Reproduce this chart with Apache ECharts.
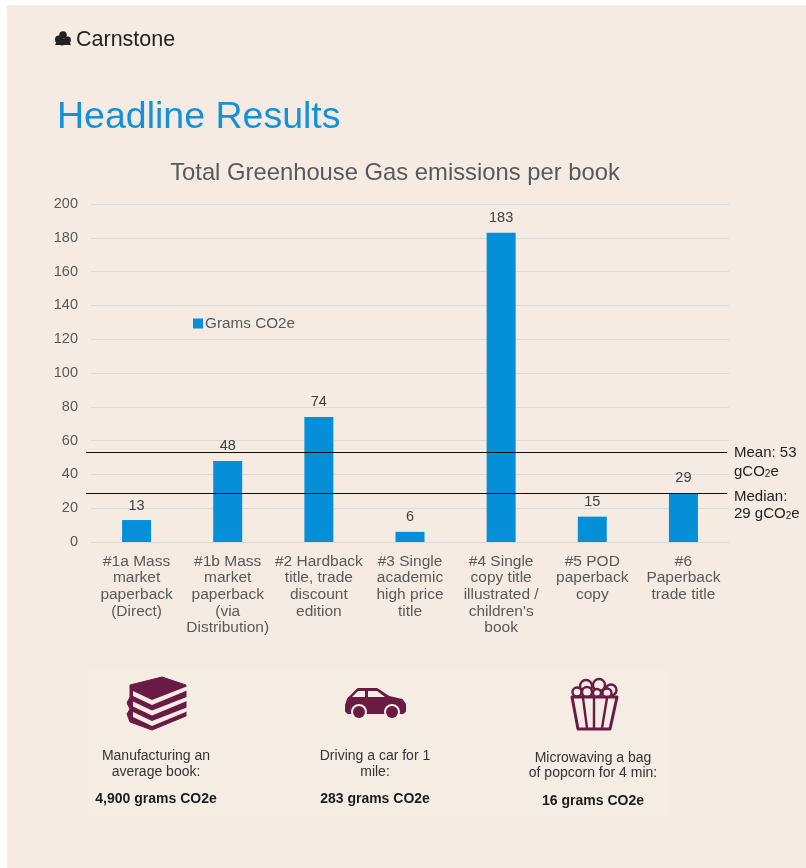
<!DOCTYPE html>
<html>
<head>
<meta charset="utf-8">
<style>html,body{margin:0;padding:0;background:#fff}#chart{width:806px;height:868px}</style>
<script src="https://cdn.jsdelivr.net/npm/echarts@6/dist/echarts.min.js"></script>
</head>
<body>
<div id="chart"></div>
<script>
// Emissions per book, in grams of CO2e
const categories = [
  '#1a Mass\nmarket\npaperback\n(Direct)',
  '#1b Mass\nmarket\npaperback\n(via\nDistribution)',
  '#2 Hardback\ntitle, trade\ndiscount\nedition',
  '#3 Single\nacademic\nhigh price\ntitle',
  '#4 Single\ncopy title\nillustrated /\nchildren\'s\nbook',
  '#5 POD\npaperback\ncopy',
  '#6\nPaperback\ntrade title'
];
const gramsCO2e = [13, 48, 74, 6, 183, 15, 29];
const meanValue = 53;
const medianValue = 29;
const seriesName = 'Grams CO2e';

// Everyday comparisons under the chart
const comparisonLines = [
  ['Manufacturing an', 'average book:'],
  ['Driving a car for 1', 'mile:'],
  ['Microwaving a bag', 'of popcorn for 4 min:']
];
const comparisonTotals = ['4,900 grams CO2e', '283 grams CO2e', '16 grams CO2e'];

const FONT = '"Liberation Sans", Arial, sans-serif';
const PAGE = '#f5ebe3';
const PANEL = '#f5ece4';
const ICON = '#6a1b43';
const BLUE = '#058fd8';
const GREY = '#595959';

const chart = echarts.init(document.getElementById('chart'), null, {renderer: 'canvas'});

function text(x, y, str, size, fill, extra) {
  return {
    type: 'text', z: 10,
    style: Object.assign({
      x, y, text: str, fill, font: size + 'px ' + FONT,
      textAlign: 'center', textVerticalAlign: 'middle'
    }, extra || {})
  };
}
function poly(points, style) {
  return {type: 'polygon', z: 9, shape: {points}, style};
}
function line(points, stroke, lineWidth) {
  return {type: 'polyline', z: 9, shape: {points},
    style: {stroke, lineWidth, fill: 'none', lineJoin: 'round', lineCap: 'round'}};
}
function dot(cx, cy, r, style) {
  return {type: 'circle', z: 9, shape: {cx, cy, r}, style};
}

// Three stacked books: a dark silhouette with the page edges cut out of it
function bookIcon() {
  const out = [
    poly([[130, 685], [162, 677], [186, 685], [186, 716], [152, 730], [130, 722], [127, 714], [130, 709], [127, 703], [130, 697]],
      {fill: ICON, stroke: ICON, lineWidth: 1, lineJoin: 'round'})
  ];
  [0, 10.5, 21].forEach((d) => {
    out.push(poly([[133, 691 + d], [152, 700 + d], [188, 686 + d], [188, 690 + d], [152, 705 + d], [133, 696 + d]],
      {fill: PANEL}));
  });
  return out;
}

function carIcon() {
  return [
    poly([[346, 705], [348, 699], [352, 695], [358, 689], [377, 689], [389, 697], [402, 700], [405, 704], [405, 711], [403, 713], [348, 713], [346, 711]],
      {fill: ICON, stroke: ICON, lineWidth: 2, lineJoin: 'round'}),
    poly([[352, 697], [358, 691], [365, 691], [365, 697]], {fill: PANEL}),
    poly([[368, 691], [377, 691], [385, 697], [368, 697]], {fill: PANEL}),
    dot(359, 712, 8, {fill: PANEL}),
    dot(392, 712, 8, {fill: PANEL}),
    dot(359, 712, 6, {fill: ICON}),
    dot(392, 712, 6, {fill: ICON})
  ];
}

function popcornIcon() {
  const lump = {fill: PANEL, stroke: ICON, lineWidth: 2.4};
  const lumps = [[586, 686, 6], [599, 685, 6], [611, 690, 5.5], [577, 692, 4.5], [587, 692, 5], [597, 693, 4], [607, 693, 4.5]];
  return lumps.map(([x, y, r]) => dot(x, y, r, lump)).concat([
    poly([[572, 697], [617, 697], [610, 729], [578, 729]],
      {fill: PANEL, stroke: ICON, lineWidth: 3, lineJoin: 'round'}),
    line([[583, 698], [587, 728]], ICON, 2.4),
    line([[594, 698], [594, 728]], ICON, 2.4),
    line([[607, 698], [602, 728]], ICON, 2.4)
  ]);
}

// Company mark beside the wordmark
function logoMark() {
  const ink = {fill: '#222'};
  return [
    dot(63, 35, 3.8, ink), dot(59, 39.5, 4, ink), dot(67.5, 40, 3.4, ink),
    dot(62, 42, 3.4, ink),
    poly([[55, 45], [71, 45], [68, 39], [58, 39]], ink)
  ];
}

const sub = {fontSize: 10, fontFamily: 'Liberation Sans', fill: '#222', verticalAlign: 'bottom', padding: [8, 0, 0, 0], lineHeight: 12};
function refLabel(y1, y2, first, second) {
  return [
    text(734, y1, first, 15, '#222', {textAlign: 'left'}),
    {type: 'text', z: 10, style: {x: 734, y: y2, text: second, fill: '#222', font: '15px ' + FONT,
      textAlign: 'left', textVerticalAlign: 'middle', rich: {sub}}}
  ];
}

const centres = [156, 375, 593];
const lineYs = [[756, 772.5, 799], [756, 772.5, 799], [758, 773.5, 801]];
const comparisonText = [];
comparisonLines.forEach((lines, i) => {
  lines.forEach((l, j) => comparisonText.push(text(centres[i], lineYs[i][j], l, 14, '#333')));
  comparisonText.push(text(centres[i], lineYs[i][2], comparisonTotals[i], 14, '#1c1c1c',
    {font: 'bold 14px ' + FONT}));
});

const refLine = (value) => [
  {x: 86, yAxis: value},
  {x: 727, yAxis: value}
];

chart.setOption({
  animation: false,
  backgroundColor: '#fff',
  title: {
    text: 'Total Greenhouse Gas emissions per book',
    left: 390, top: 156, textAlign: 'center',
    textStyle: {fontFamily: FONT, fontSize: 23.8, fontWeight: 'normal', color: GREY}
  },
  legend: {
    left: 188, top: 311, itemWidth: 10, itemHeight: 10, itemGap: 5,
    icon: 'rect',
    textStyle: {fontFamily: FONT, fontSize: 15.3, color: GREY, padding: [0, 0, 0, -3]},
    data: [seriesName]
  },
  grid: {left: 91, right: 77, top: 204, bottom: 326},
  xAxis: {
    type: 'category', data: categories,
    axisTick: {show: false},
    axisLine: {lineStyle: {color: '#d8dcdf', width: 1}},
    axisLabel: {interval: 0, fontFamily: FONT, fontSize: 15.5, color: GREY, lineHeight: 16.7, margin: 11}
  },
  yAxis: {
    type: 'value', min: 0, max: 200, interval: 20,
    axisLine: {show: false}, axisTick: {show: false},
    axisLabel: {fontFamily: FONT, fontSize: 14.5, color: GREY, margin: 13},
    splitLine: {lineStyle: {color: '#d8dcdf', width: 1}}
  },
  series: [{
    name: seriesName, type: 'bar', data: gramsCO2e, barWidth: 29,
    itemStyle: {color: BLUE},
    label: {show: true, position: 'top', distance: 7, fontFamily: FONT, fontSize: 14.5, color: '#404040'},
    markLine: {
      silent: true, symbol: 'none', animation: false, z: 5,
      label: {show: false},
      lineStyle: {color: '#111', type: 'solid', width: 1.2},
      data: [refLine(meanValue), refLine(medianValue)]
    }
  }],
  graphic: {elements: [
    {type: 'rect', z: -2, silent: true, shape: {x: 7, y: 5, width: 799, height: 863}, style: {fill: PAGE}},
    {type: 'rect', z: -1, silent: true, shape: {x: 87, y: 668, width: 579, height: 148}, style: {fill: PANEL}},
    text(76, 40, 'Carnstone', 21.5, '#222', {textAlign: 'left'}),
    text(57, 118, 'Headline Results', 37.5, '#1391db', {textAlign: 'left'}),
    ...logoMark(),
    ...refLabel(453, 472, 'Mean: ' + meanValue, 'gCO{sub|2}e'),
    ...refLabel(497, 514, 'Median:', medianValue + ' gCO{sub|2}e'),
    ...bookIcon(),
    ...carIcon(),
    ...popcornIcon(),
    ...comparisonText
  ]}
});
</script>
</body>
</html>
